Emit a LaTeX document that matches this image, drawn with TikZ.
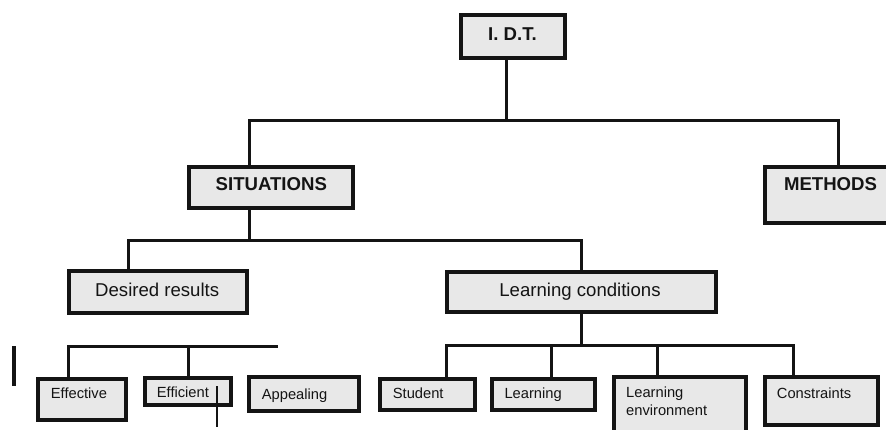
\documentclass[tikz,border=0pt]{standalone}
\usepackage{fontspec}
\setmainfont{Liberation Sans}
\definecolor{boxfill}{RGB}{232,232,232}
\definecolor{ink}{RGB}{20,20,20}
\begin{document}
\begin{tikzpicture}[x=1pt,y=-1pt,
  box/.style={draw=ink, fill=boxfill, line width=3.8pt, rectangle, inner sep=0pt},
  conn/.style={draw=ink, line width=3pt},
  bigt/.style={font=\fontsize{18.6}{22}\selectfont, text=ink, inner sep=0pt, anchor=base},
  bigb/.style={font=\bfseries\fontsize{18.6}{22}\selectfont, text=ink, inner sep=0pt, anchor=base},
  smallt/.style={font=\fontsize{14.7}{17.7}\selectfont, text=ink, inner sep=0pt, anchor=base west}]
\useasboundingbox (0,0) rectangle (886,429);
\clip (0,0) rectangle (886,429);

% boxes
\node[box, minimum width=104pt, minimum height=43pt] (idt)  at (513,36.5) {};
\node[box, minimum width=164pt, minimum height=41pt] (sit)  at (271,187.5) {};
\node[box, minimum width=133pt, minimum height=56pt] (meth) at (831.5,195) {};
\node[box, minimum width=178pt, minimum height=42pt] (des)  at (158,292) {};
\node[box, minimum width=269pt, minimum height=40pt] (lc)   at (581.5,292) {};
\node[box, minimum width=88pt,  minimum height=41pt] (eff)  at (82,399.5) {};
\node[box, minimum width=86pt,  minimum height=27pt] (effi) at (188,391.5) {};
\node[box, minimum width=110pt, minimum height=34pt] (app)  at (304,394) {};
\node[box, minimum width=95pt,  minimum height=31pt] (stu)  at (427.5,394.5) {};
\node[box, minimum width=103pt, minimum height=31pt] (lrn)  at (543.5,394.5) {};
\node[box, minimum width=132pt, minimum height=68pt] (lenv) at (680,411) {};
\node[box, minimum width=113pt, minimum height=48pt] (con)  at (821.5,401) {};

% connector junctions
\coordinate (j0)  at (506,120);
\coordinate (j0L) at (249,120);
\coordinate (j0R) at (838,120);
\coordinate (j1)  at (249,240);
\coordinate (j1L) at (128,240);
\coordinate (j1R) at (581,240);
\coordinate (j2L) at (68,346);
\coordinate (j2E) at (188.7,346);
\coordinate (j2R) at (278,346);
\coordinate (j3)  at (581,345);
\coordinate (j3a) at (446,345);
\coordinate (j3b) at (551,345);
\coordinate (j3c) at (657,345);
\coordinate (j3d) at (793,345);

\draw[conn] (j0 |- idt.south) -- (j0);
\draw[conn] (j0L |- sit.north) -- (j0L) -- (j0R) -- (j0R |- meth.north);
\draw[conn] (j1 |- sit.south) -- (j1);
\draw[conn] (j1L |- des.north) -- (j1L) -- (j1R) -- (j1R |- lc.north);
\draw[conn] (j2L |- eff.north) -- (j2L) -- (j2R);
\draw[conn] (j2E) -- (j2E |- effi.north);
\draw[conn] (j3 |- lc.south) -- (j3);
\draw[conn] (j3a |- stu.north) -- (j3a) -- (j3d) -- (j3d |- con.north);
\draw[conn] (j3b) -- (j3b |- lrn.north);
\draw[conn] (j3c) -- (j3c |- lenv.north);

% stray strokes
\coordinate (s1a) at (14,346);
\coordinate (s1b) at (14,386);
\draw[ink, line width=3.5pt] (s1a) -- (s1b);
\coordinate (s2a) at (217,386);
\coordinate (s2b) at (217,427);
\draw[ink, line width=2pt] (s2a) -- (s2b);

% texts
\node[bigb] (tidt)  at (512.5,40)  {I. D.T.};
\node[bigb] (tsit)  at (271.3,190) {SITUATIONS};
\node[bigb] (tmeth) at (830.5,190.5) {METHODS};
\node[bigt] (tdes)  at (157.2,296) {Desired results};
\node[bigt] (tlc)   at (580,296)   {Learning conditions};
\node[smallt] (teff)  at (50.7,398.3)  {Effective};
\node[smallt] (teffi) at (156.7,397.3) {Efficient};
\node[smallt] (tapp)  at (261.7,399.3) {Appealing};
\node[smallt] (tstu)  at (392.7,398.3) {Student};
\node[smallt] (tlrn)  at (504.3,398.3) {Learning};
\node[smallt] (tle1)  at (626,397.3)   {Learning};
\node[smallt] (tle2)  at (626,415)     {environment};
\node[smallt] (tcon)  at (776.7,398.3) {Constraints};
\end{tikzpicture}
\end{document}
